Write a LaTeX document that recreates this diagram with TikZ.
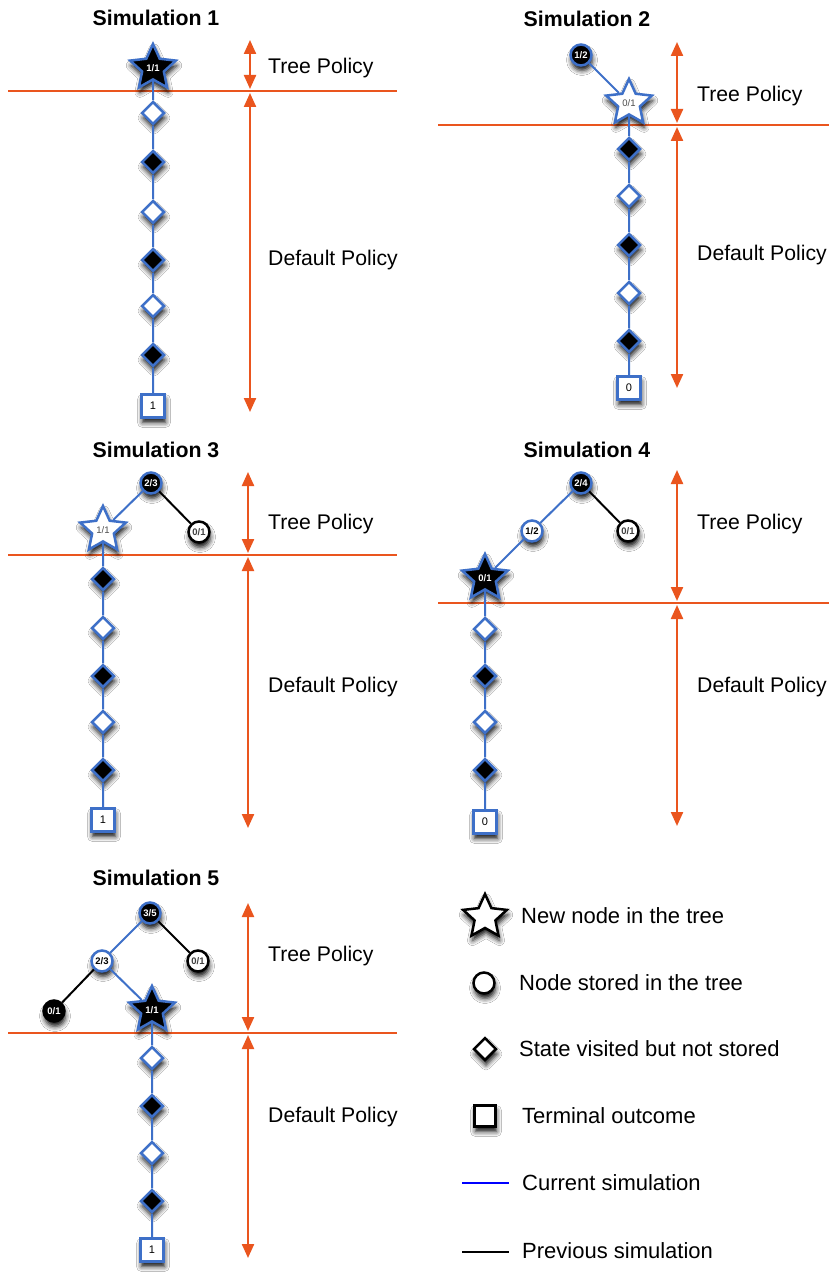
\documentclass[tikz,border=0pt]{standalone}
\usepackage{fontspec}
\setmainfont{Liberation Sans}
\usetikzlibrary{shapes.geometric,arrows.meta,shadows.blur}
\definecolor{pol}{RGB}{234,85,30}
\definecolor{nblue}{RGB}{62,112,200}
\tikzset{
 sh/.style={blur shadow={shadow xshift=1pt, shadow yshift=-5pt, shadow blur radius=5pt, shadow opacity=95}},
 base/.style={inner sep=0pt, line width=2.5pt, font=\fontsize{9.5}{9.5}\selectfont\bfseries, sh},
 cblk/.style={base, circle, minimum size=21pt, fill=black, draw=nblue, text=white},
 cwht/.style={base, circle, minimum size=21pt, fill=white, draw=nblue, text=black},
 cwhtk/.style={base, circle, minimum size=21pt, fill=white, draw=black, text=black!75},
 cblkk/.style={base, circle, minimum size=21pt, fill=black, draw=black, text=white},
 sblk/.style={base, star, star points=5, star point ratio=2.1, minimum size=48pt, fill=black, draw=nblue, text=white},
 swht/.style={base, star, star points=5, star point ratio=2.1, minimum size=48pt, fill=white, draw=nblue, text=black!70, font=\fontsize{9.5}{9.5}\selectfont},
 dblk/.style={base, diamond, minimum size=23pt, fill=black, draw=nblue},
 dwht/.style={base, diamond, minimum size=23pt, fill=white, draw=nblue},
 term/.style={base, rectangle, minimum size=23pt, fill=white, draw=nblue, text=black, font=\fontsize{11}{11}\selectfont},
 cur/.style={nblue, line width=2pt},
 prev/.style={black, line width=2pt},
 sepline/.style={pol, line width=2.2pt},
 parr/.style={pol, line width=2.2pt, {Triangle[length=14pt,width=12pt]}-{Triangle[length=14pt,width=12pt]}},
 ttl/.style={font=\fontsize{21.3}{21.3}\selectfont\bfseries},
 lbl/.style={font=\fontsize{21.2}{21.2}\selectfont, anchor=west, inner sep=0pt},
 leg/.style={font=\fontsize{22}{22}\selectfont, anchor=west, inner sep=0pt},
}
\begin{document}
\begin{tikzpicture}[x=1pt,y=-1pt]
\useasboundingbox (0,0) rectangle (829,1273);
\fill[white] (0,0) rectangle (829,1273);

% ---------- separator lines ----------
\coordinate (h1a) at (8,91);   \coordinate (h1b) at (397,91);
\coordinate (h2a) at (438,125); \coordinate (h2b) at (829,125);
\coordinate (h3a) at (8,555);  \coordinate (h3b) at (397,555);
\coordinate (h4a) at (438,603); \coordinate (h4b) at (829,603);
\coordinate (h5a) at (8,1033); \coordinate (h5b) at (397,1033);
\draw[sepline] (h1a) -- (h1b);
\draw[sepline] (h2a) -- (h2b);
\draw[sepline] (h3a) -- (h3b);
\draw[sepline] (h4a) -- (h4b);
\draw[sepline] (h5a) -- (h5b);

% ---------- policy arrows ----------
\coordinate (a1t) at (250,40);  \coordinate (a1m) at (250,89);  \coordinate (a1n) at (250,93);  \coordinate (a1b) at (250,412);
\coordinate (a2t) at (677,42);  \coordinate (a2m) at (677,123); \coordinate (a2n) at (677,127); \coordinate (a2b) at (677,388);
\coordinate (a3t) at (248,472); \coordinate (a3m) at (248,553); \coordinate (a3n) at (248,557); \coordinate (a3b) at (248,828);
\coordinate (a4t) at (677,470); \coordinate (a4m) at (677,601); \coordinate (a4n) at (677,605); \coordinate (a4b) at (677,826);
\coordinate (a5t) at (248,903); \coordinate (a5m) at (248,1031); \coordinate (a5n) at (248,1035); \coordinate (a5b) at (248,1258);
\draw[parr] (a1t) -- (a1m); \draw[parr] (a1n) -- (a1b);
\draw[parr] (a2t) -- (a2m); \draw[parr] (a2n) -- (a2b);
\draw[parr] (a3t) -- (a3m); \draw[parr] (a3n) -- (a3b);
\draw[parr] (a4t) -- (a4m); \draw[parr] (a4n) -- (a4b);
\draw[parr] (a5t) -- (a5m); \draw[parr] (a5n) -- (a5b);

% ---------- labels ----------
\node[ttl] (t1) at (156,18) {Simulation 1};
\node[ttl] (t2) at (587,19) {Simulation 2};
\node[ttl] (t3) at (156,450) {Simulation 3};
\node[ttl] (t4) at (587,450) {Simulation 4};
\node[ttl] (t5) at (156,878) {Simulation 5};
\node[lbl] (tp1) at (268,68) {Tree Policy};
\node[lbl] (dp1) at (268,260) {Default Policy};
\node[lbl] (tp2) at (697,96) {Tree Policy};
\node[lbl] (dp2) at (697,255) {Default Policy};
\node[lbl] (tp3) at (268,524) {Tree Policy};
\node[lbl] (dp3) at (268,687) {Default Policy};
\node[lbl] (tp4) at (697,524) {Tree Policy};
\node[lbl] (dp4) at (697,687) {Default Policy};
\node[lbl] (tp5) at (268,956) {Tree Policy};
\node[lbl] (dp5) at (268,1117) {Default Policy};

% ---------- Simulation 1 ----------
\node[sblk] (s1) at (153,68) {1/1};
\node[dwht] (s1d1) at (153,113) {};
\node[dblk] (s1d2) at (153,162) {};
\node[dwht] (s1d3) at (153,212) {};
\node[dblk] (s1d4) at (153,260) {};
\node[dwht] (s1d5) at (153,306) {};
\node[dblk] (s1d6) at (153,355) {};
\node[term] (s1t) at (153,406) {1};
\draw[cur] (s1) -- (s1d1) -- (s1d2) -- (s1d3) -- (s1d4) -- (s1d5) -- (s1d6) -- (s1t);

% ---------- Simulation 2 ----------
\node[cblk] (r2) at (581,55) {1/2};
\node[swht] (s2) at (629,103) {0/1};
\node[dblk] (s2d1) at (629,149) {};
\node[dwht] (s2d2) at (629,196) {};
\node[dblk] (s2d3) at (629,245) {};
\node[dwht] (s2d4) at (629,293) {};
\node[dblk] (s2d5) at (629,341) {};
\node[term] (s2t) at (629,388) {0};
\draw[cur] (r2) -- (s2) -- (s2d1) -- (s2d2) -- (s2d3) -- (s2d4) -- (s2d5) -- (s2t);

% ---------- Simulation 3 ----------
\node[cblk] (r3) at (151,483) {2/3};
\node[cwhtk] (r3b) at (199,532) {0/1};
\node[swht] (s3) at (103,530) {1/1};
\node[dblk] (s3d1) at (103,579) {};
\node[dwht] (s3d2) at (103,628) {};
\node[dblk] (s3d3) at (103,676) {};
\node[dwht] (s3d4) at (103,722) {};
\node[dblk] (s3d5) at (103,770) {};
\node[term] (s3t) at (103,820) {1};
\draw[prev] (r3) -- (r3b);
\draw[cur] (r3) -- (s3) -- (s3d1) -- (s3d2) -- (s3d3) -- (s3d4) -- (s3d5) -- (s3t);

% ---------- Simulation 4 ----------
\node[cblk] (r4) at (581,483) {2/4};
\node[cwht] (r4a) at (532,531) {1/2};
\node[cwhtk] (r4b) at (628,531) {0/1};
\node[sblk] (s4) at (485,578) {0/1};
\node[dwht] (s4d1) at (485,629) {};
\node[dblk] (s4d2) at (485,676) {};
\node[dwht] (s4d3) at (485,722) {};
\node[dblk] (s4d4) at (485,770) {};
\node[term] (s4t) at (485,822) {0};
\draw[prev] (r4) -- (r4b);
\draw[cur] (r4) -- (r4a) -- (s4) -- (s4d1) -- (s4d2) -- (s4d3) -- (s4d4) -- (s4t);

% ---------- Simulation 5 ----------
\node[cblk] (r5) at (150,913) {3/5};
\node[cwht] (r5a) at (102,961) {2/3};
\node[cwhtk] (r5b) at (198,961) {0/1};
\node[cblkk] (r5c) at (54,1011) {0/1};
\node[sblk] (s5) at (152,1010) {1/1};
\node[dwht] (s5d1) at (152,1058) {};
\node[dblk] (s5d2) at (152,1106) {};
\node[dwht] (s5d3) at (152,1153) {};
\node[dblk] (s5d4) at (152,1201) {};
\node[term] (s5t) at (152,1250) {1};
\draw[prev] (r5) -- (r5b);
\draw[prev] (r5a) -- (r5c);
\draw[cur] (r5) -- (r5a) -- (s5) -- (s5d1) -- (s5d2) -- (s5d3) -- (s5d4) -- (s5t);

% ---------- Legend ----------
\node[base, star, star points=5, star point ratio=2.1, minimum size=46pt, fill=white, draw=black] (lstar) at (485,917) {};
\node[leg] (lstart) at (521,916) {New node in the tree};
\node[base, circle, minimum size=21pt, fill=white, draw=black] (lcirc) at (484,983) {};
\node[leg] (lcirct) at (519,983) {Node stored in the tree};
\node[base, diamond, minimum size=23pt, fill=white, draw=black] (ldiam) at (485,1049) {};
\node[leg] (ldiamt) at (519,1049) {State visited but not stored};
\node[base, rectangle, minimum size=21pt, fill=white, draw=black] (lsq) at (485,1116) {};
\node[leg] (lsqt) at (522,1116) {Terminal outcome};
\coordinate (lb1) at (462,1183); \coordinate (lb2) at (509,1183);
\draw[blue, line width=2pt] (lb1) -- (lb2);
\node[leg] (lbt) at (522,1183) {Current simulation};
\coordinate (lk1) at (462,1252); \coordinate (lk2) at (509,1252);
\draw[black, line width=2pt] (lk1) -- (lk2);
\node[leg] (lkt) at (522,1251) {Previous simulation};
\end{tikzpicture}
\end{document}
